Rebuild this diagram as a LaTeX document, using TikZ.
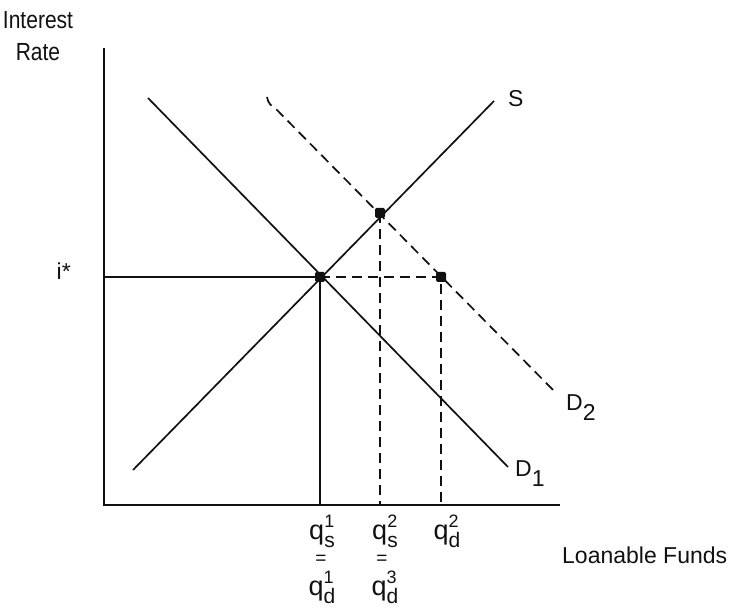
\documentclass[tikz,border=0pt]{standalone}
\usepackage{fontspec}
\setmainfont{Liberation Sans}
\usetikzlibrary{positioning}
\definecolor{mInk}{HTML}{111111}
\newcommand\qlab[2]{{\fontsize{27}{27}\selectfont q}\rlap{\raisebox{0.56em}{\fontsize{18}{18}\selectfont #1}}\raisebox{-0.34em}{\fontsize{21}{21}\selectfont #2}}
\newcommand\dsub[1]{\raisebox{-0.42em}{#1}}
\tikzset{
  ax/.style   = {draw=mInk, line width=2pt},
  cv/.style   = {draw=mInk, line width=1.7pt},
  dsh/.style  = {cv, dash pattern=on 10pt off 6pt},
  dot/.style  = {rectangle, rounded corners=1.5pt, fill=mInk, inner sep=0pt, minimum size=10pt},
  lbl/.style  = {font=\fontsize{23}{32}\selectfont, text=mInk, inner sep=0pt},
  eqs/.style  = {lbl, font=\fontsize{19}{19}\selectfont},
}
\begin{document}
\begin{tikzpicture}[x=1pt, y=-1pt]
  \useasboundingbox (0,0) rectangle (729,609);
  % axes
  \coordinate (O) at (104,505);
  \coordinate (Ytop) at (104,48);
  \coordinate (Xend) at (560,505);
  \draw[ax] (Ytop) -- (O) -- (Xend);
  % curves
  \coordinate (S0) at (133,470);
  \coordinate (S1) at (494,101);
  \coordinate (Da0) at (148,98);
  \coordinate (Da1) at (508,467);
  \coordinate (Db0) at (267,97);
  \coordinate (Db1) at (557,394);
  \draw[cv] (S0) -- (S1);
  \draw[cv] (Da0) -- (Da1);
  \draw[dsh] (Db0) .. controls (268,103) and (271,106) .. (276,109) -- (Db1);
  % equilibria
  \node[dot] (E1) at (320,277) {};
  \node[dot] (E2) at (380,213) {};
  \node[dot] (E3) at (441,277) {};
  \coordinate (Ia) at (104,277);
  \coordinate (Q1) at (320,505);
  \coordinate (Q2) at (380,505);
  \coordinate (Q3) at (441,505);
  \draw[cv] (Ia) -- (E1.center) -- (Q1);
  \draw[dsh] (E1.center) -- (E3.center) -- (Q3);
  \draw[dsh] (E2.center) -- (Q2);
  % labels
  \node[lbl, align=center, font=\fontsize{21}{32}\selectfont] (ylab) at (38,36)
    {\scalebox{1}[1.18]{Interest}\\\scalebox{1}[1.18]{Rate}};
  \node[lbl, anchor=base west] (xlab) at (562,564) {Loanable Funds};
  \node[lbl, anchor=base east] (istar) at (71,280) {i*};
  \node[lbl, anchor=base west] (Slab) at (508,107) {S};
  \node[lbl, anchor=base west] (D2lab) at (566,411) {D\dsub{2}};
  \node[lbl, anchor=base west] (D1lab) at (515,477) {D\dsub{1}};
  \node[lbl, anchor=base] (qs1) at (322,540) {\qlab{1}{s}};
  \node[eqs] (eq1) at (321,560) {=};
  \node[lbl, anchor=base] (qd1) at (322,596) {\qlab{1}{d}};
  \node[lbl, anchor=base] (qs2) at (385,540) {\qlab{2}{s}};
  \node[eqs] (eq2) at (382,560) {=};
  \node[lbl, anchor=base] (qd3) at (385,596) {\qlab{3}{d}};
  \node[lbl, anchor=base] (qd2) at (447,540) {\qlab{2}{d}};
\end{tikzpicture}
\end{document}
